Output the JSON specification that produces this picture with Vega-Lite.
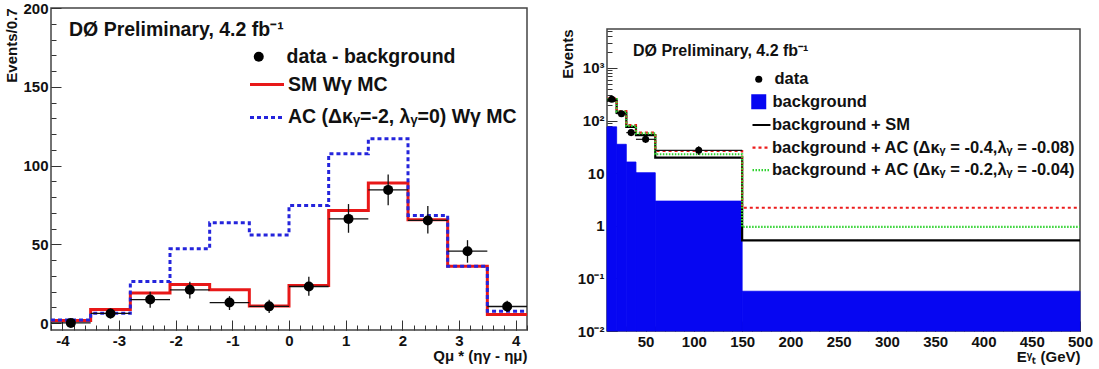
{
  "$schema": "https://vega.github.io/schema/vega-lite/v6.json",
  "background": "white",
  "padding": {"left": 4, "top": 0, "right": 2, "bottom": 0},
  "spacing": 25,
  "config": {
    "font": "Liberation Sans",
    "view": {"stroke": "#444444", "strokeWidth": 1.5},
    "axis": {"grid": false, "domain": false, "labelFont": "Liberation Sans", "labelFontWeight": "bold", "labelFontSize": 15, "labelColor": "#111111", "titleFont": "Liberation Sans", "titleFontWeight": "bold", "titleFontSize": 15, "titleColor": "#111111", "tickColor": "#333333", "tickWidth": 1, "labelFlush": false},
    "legend": {"labelFont": "Liberation Sans", "labelFontWeight": "bold", "labelColor": "#111111", "padding": 0, "labelLimit": 600}
  },
  "resolve": {
    "scale": {"stroke": "independent", "strokeDash": "independent", "shape": "independent", "fill": "independent"},
    "legend": {"stroke": "independent", "strokeDash": "independent", "shape": "independent", "fill": "independent"}
  },
  "datasets": {
    "lhist": [
      {"s": "SM Wγ MC", "i": 0, "lo": -4.2, "hi": -3.5, "v": 1.8},
      {"s": "SM Wγ MC", "i": 1, "lo": -3.5, "hi": -2.8, "v": 8.7},
      {"s": "SM Wγ MC", "i": 2, "lo": -2.8, "hi": -2.1, "v": 19.2},
      {"s": "SM Wγ MC", "i": 3, "lo": -2.1, "hi": -1.4, "v": 24.6},
      {"s": "SM Wγ MC", "i": 4, "lo": -1.4, "hi": -0.7, "v": 21.2},
      {"s": "SM Wγ MC", "i": 5, "lo": -0.7, "hi": 0, "v": 11},
      {"s": "SM Wγ MC", "i": 6, "lo": 0, "hi": 0.7, "v": 23.9},
      {"s": "SM Wγ MC", "i": 7, "lo": 0.7, "hi": 1.4, "v": 71.5},
      {"s": "SM Wγ MC", "i": 8, "lo": 1.4, "hi": 2.1, "v": 89},
      {"s": "SM Wγ MC", "i": 9, "lo": 2.1, "hi": 2.8, "v": 65.6},
      {"s": "SM Wγ MC", "i": 10, "lo": 2.8, "hi": 3.5, "v": 36.2},
      {"s": "SM Wγ MC", "i": 11, "lo": 3.5, "hi": 4.2, "v": 5.5},
      {"s": "AC (Δκᵧ=-2, λᵧ=0) Wγ MC", "i": 0, "lo": -4.2, "hi": -3.5, "v": 2},
      {"s": "AC (Δκᵧ=-2, λᵧ=0) Wγ MC", "i": 1, "lo": -3.5, "hi": -2.8, "v": 6.3},
      {"s": "AC (Δκᵧ=-2, λᵧ=0) Wγ MC", "i": 2, "lo": -2.8, "hi": -2.1, "v": 26.5},
      {"s": "AC (Δκᵧ=-2, λᵧ=0) Wγ MC", "i": 3, "lo": -2.1, "hi": -1.4, "v": 47.2},
      {"s": "AC (Δκᵧ=-2, λᵧ=0) Wγ MC", "i": 4, "lo": -1.4, "hi": -0.7, "v": 63.7},
      {"s": "AC (Δκᵧ=-2, λᵧ=0) Wγ MC", "i": 5, "lo": -0.7, "hi": 0, "v": 56},
      {"s": "AC (Δκᵧ=-2, λᵧ=0) Wγ MC", "i": 6, "lo": 0, "hi": 0.7, "v": 74.7},
      {"s": "AC (Δκᵧ=-2, λᵧ=0) Wγ MC", "i": 7, "lo": 0.7, "hi": 1.4, "v": 107.5},
      {"s": "AC (Δκᵧ=-2, λᵧ=0) Wγ MC", "i": 8, "lo": 1.4, "hi": 2.1, "v": 117},
      {"s": "AC (Δκᵧ=-2, λᵧ=0) Wγ MC", "i": 9, "lo": 2.1, "hi": 2.8, "v": 68.4},
      {"s": "AC (Δκᵧ=-2, λᵧ=0) Wγ MC", "i": 10, "lo": 2.8, "hi": 3.5, "v": 36.2},
      {"s": "AC (Δκᵧ=-2, λᵧ=0) Wγ MC", "i": 11, "lo": 3.5, "hi": 4.2, "v": 7.6}
    ],
    "ldata": [
      {"x": -3.85, "lo": -4.2, "hi": -3.5, "y": 0.2, "ylo": -1.3, "yhi": 1.7},
      {"x": -3.15, "lo": -3.5, "hi": -2.8, "y": 6.2, "ylo": 3.0, "yhi": 9.4},
      {"x": -2.45, "lo": -2.8, "hi": -2.1, "y": 15, "ylo": 9.8, "yhi": 20},
      {"x": -1.75, "lo": -2.1, "hi": -1.4, "y": 21.2, "ylo": 15.7, "yhi": 26.3},
      {"x": -1.05, "lo": -1.4, "hi": -0.7, "y": 13.1, "ylo": 8.4, "yhi": 17.2},
      {"x": -0.35, "lo": -0.7, "hi": 0, "y": 10.7, "ylo": 6.5, "yhi": 14.9},
      {"x": 0.35, "lo": 0, "hi": 0.7, "y": 23.3, "ylo": 17.4, "yhi": 29.5},
      {"x": 1.05, "lo": 0.7, "hi": 1.4, "y": 66.2, "ylo": 57.4, "yhi": 75.6},
      {"x": 1.75, "lo": 1.4, "hi": 2.1, "y": 84.6, "ylo": 74.9, "yhi": 94.3},
      {"x": 2.45, "lo": 2.1, "hi": 2.8, "y": 65.2, "ylo": 56.9, "yhi": 74.3},
      {"x": 3.15, "lo": 2.8, "hi": 3.5, "y": 45.7, "ylo": 38.4, "yhi": 52.7},
      {"x": 3.85, "lo": 3.5, "hi": 4.2, "y": 10.6, "ylo": 7.3, "yhi": 14.3}
    ],
    "rbg": [
      {"lo": 10, "hi": 20, "v": 76},
      {"lo": 20, "hi": 30, "v": 35.4},
      {"lo": 30, "hi": 40, "v": 16.3},
      {"lo": 40, "hi": 60, "v": 10.2},
      {"lo": 60, "hi": 150, "v": 2.95},
      {"lo": 150, "hi": 500, "v": 0.057}
    ],
    "rhist": [
      {"s": "background + SM", "i": 0, "lo": 10, "hi": 20, "v": 240},
      {"s": "background + SM", "i": 1, "lo": 20, "hi": 30, "v": 140},
      {"s": "background + SM", "i": 2, "lo": 30, "hi": 40, "v": 76},
      {"s": "background + SM", "i": 3, "lo": 40, "hi": 60, "v": 53},
      {"s": "background + SM", "i": 4, "lo": 60, "hi": 150, "v": 19.8},
      {"s": "background + SM", "i": 5, "lo": 150, "hi": 500, "v": 0.53},
      {"s": "background + AC (Δκᵧ = -0.4,λᵧ = -0.08)", "i": 0, "lo": 10, "hi": 20, "v": 262},
      {"s": "background + AC (Δκᵧ = -0.4,λᵧ = -0.08)", "i": 1, "lo": 20, "hi": 30, "v": 152},
      {"s": "background + AC (Δκᵧ = -0.4,λᵧ = -0.08)", "i": 2, "lo": 30, "hi": 40, "v": 82},
      {"s": "background + AC (Δκᵧ = -0.4,λᵧ = -0.08)", "i": 3, "lo": 40, "hi": 60, "v": 59},
      {"s": "background + AC (Δκᵧ = -0.4,λᵧ = -0.08)", "i": 4, "lo": 60, "hi": 150, "v": 26.4},
      {"s": "background + AC (Δκᵧ = -0.4,λᵧ = -0.08)", "i": 5, "lo": 150, "hi": 500, "v": 2.2},
      {"s": "background + AC (Δκᵧ = -0.2,λᵧ = -0.04)", "i": 0, "lo": 10, "hi": 20, "v": 256},
      {"s": "background + AC (Δκᵧ = -0.2,λᵧ = -0.04)", "i": 1, "lo": 20, "hi": 30, "v": 148},
      {"s": "background + AC (Δκᵧ = -0.2,λᵧ = -0.04)", "i": 2, "lo": 30, "hi": 40, "v": 79},
      {"s": "background + AC (Δκᵧ = -0.2,λᵧ = -0.04)", "i": 3, "lo": 40, "hi": 60, "v": 57},
      {"s": "background + AC (Δκᵧ = -0.2,λᵧ = -0.04)", "i": 4, "lo": 60, "hi": 150, "v": 22.9},
      {"s": "background + AC (Δκᵧ = -0.2,λᵧ = -0.04)", "i": 5, "lo": 150, "hi": 500, "v": 0.95}
    ],
    "rdata": [
      {"x": 15, "lo": 10, "hi": 20, "y": 254, "ylo": 238, "yhi": 270},
      {"x": 25, "lo": 20, "hi": 30, "y": 135, "ylo": 124, "yhi": 147},
      {"x": 35, "lo": 30, "hi": 40, "y": 59, "ylo": 51.5, "yhi": 67},
      {"x": 50, "lo": 40, "hi": 60, "y": 44, "ylo": 37.5, "yhi": 51},
      {"x": 105, "lo": 60, "hi": 150, "y": 27.2, "ylo": 22.2, "yhi": 32.5}
    ]
  },
  "hconcat": [
    {
      "width": 476,
      "height": 322,
      "title": {"text": "DØ Preliminary, 4.2 fb⁻¹", "anchor": "start", "frame": "group", "offset": -39, "dx": 18, "fontSize": 19.5, "fontWeight": "bold", "font": "Liberation Sans", "color": "#111111"},
      "resolve": {"axis": {"x": "independent", "y": "independent"}},
      "layer": [
        {
          "data": {"name": "lhist"},
          "transform": [{"fold": ["lo", "hi"], "as": ["edge", "xv"]}],
          "mark": {"type": "line", "strokeWidth": 3},
          "encoding": {
            "x": {"field": "xv", "type": "quantitative", "scale": {"domain": [-4.2, 4.2], "nice": false, "zero": false},
              "axis": {"orient": "bottom", "values": [-4, -3, -2, -1, 0, 1, 2, 3, 4], "tickSize": -10, "labelPadding": 13, "labelExpr": "'' + datum.value", "title": "Qμ * (ηγ - ημ)", "titleAnchor": "end", "titlePadding": 0}},
            "y": {"field": "v", "type": "quantitative", "scale": {"domain": [-4.3, 200], "nice": false, "zero": false},
              "axis": {"orient": "left", "values": [0, 50, 100, 150, 200], "tickSize": -10, "labelPadding": 13, "title": "Events/0.7", "titleAnchor": "end", "titlePadding": 3}},
            "stroke": {"field": "s", "type": "nominal", "scale": {"domain": ["SM Wγ MC", "AC (Δκᵧ=-2, λᵧ=0) Wγ MC"], "range": ["#e81818", "#2424dc"]},
              "legend": {"title": null, "orient": "none", "legendX": 197.5, "legendY": 58, "symbolType": "stroke", "symbolSize": 1156, "symbolStrokeWidth": 3, "labelFontSize": 19.5, "rowPadding": 4.9, "labelOffset": 2.5}},
            "strokeDash": {"field": "s", "type": "nominal", "scale": {"domain": ["SM Wγ MC", "AC (Δκᵧ=-2, λᵧ=0) Wγ MC"], "range": [[1, 0], [4, 3]]},
              "legend": {"title": null, "orient": "none", "legendX": 197.5, "legendY": 58, "symbolType": "stroke", "symbolSize": 1156, "symbolStrokeWidth": 3, "labelFontSize": 19.5, "rowPadding": 4.9, "labelOffset": 2.5}},
            "order": [{"field": "i", "type": "quantitative"}, {"field": "edge", "sort": "descending"}]
          }
        },
        {
          "data": {"name": "ldata"},
          "mark": {"type": "rule", "color": "#111111", "strokeWidth": 1.3},
          "encoding": {
            "x": {"field": "x", "type": "quantitative", "axis": null},
            "y": {"field": "ylo", "type": "quantitative", "axis": null},
            "y2": {"field": "yhi"}
          }
        },
        {
          "data": {"name": "ldata"},
          "mark": {"type": "rule", "color": "#111111", "strokeWidth": 1.3},
          "encoding": {
            "x": {"field": "lo", "type": "quantitative", "axis": null},
            "x2": {"field": "hi"},
            "y": {"field": "y", "type": "quantitative", "axis": null}
          }
        },
        {
          "data": {"name": "ldata"},
          "mark": {"type": "point", "filled": true, "size": 100, "opacity": 1, "color": "#000000"},
          "encoding": {
            "x": {"field": "x", "type": "quantitative",
              "axis": {"orient": "bottom", "values": [-4.2, -4, -3.8, -3.6, -3.4, -3.2, -3, -2.8, -2.6, -2.4, -2.2, -2, -1.8, -1.6, -1.4, -1.2, -1, -0.8, -0.6, -0.4, -0.2, 0, 0.2, 0.4, 0.6, 0.8, 1, 1.2, 1.4, 1.6, 1.8, 2, 2.2, 2.4, 2.6, 2.8, 3, 3.2, 3.4, 3.6, 3.8, 4, 4.2], "tickSize": -5, "labels": false, "title": null}},
            "y": {"field": "y", "type": "quantitative",
              "axis": {"orient": "left", "values": [0, 10, 20, 30, 40, 50, 60, 70, 80, 90, 100, 110, 120, 130, 140, 150, 160, 170, 180, 190, 200], "tickSize": -5, "labels": false, "title": null}},
            "shape": {"datum": "data - background", "scale": {"range": ["circle"]},
              "legend": {"title": null, "orient": "none", "legendX": 198, "legendY": 39, "symbolType": "circle", "symbolSize": 100, "symbolFillColor": "#000000", "symbolStrokeColor": "#000000", "symbolStrokeWidth": 0, "labelFontSize": 19.5, "labelOffset": 18}}
          }
        }
      ]
    },
    {
      "spacing": 0,
      "vconcat": [
        {
          "width": 473,
          "height": 20,
          "view": {"stroke": null},
          "data": {"values": []},
          "mark": "point",
          "encoding": {}
        },
        {
          "width": 473,
          "height": 302,
          "title": {"text": "DØ Preliminary, 4.2 fb⁻¹", "anchor": "start", "frame": "group", "offset": -30, "dx": 26, "fontSize": 16, "fontWeight": "bold", "font": "Liberation Sans", "color": "#111111"},
          "resolve": {"axis": {"x": "independent", "y": "independent"}},
          "layer": [
            {
              "data": {"name": "rbg"},
              "mark": {"type": "rect", "stroke": "#0606f2", "strokeWidth": 0.8},
              "encoding": {
                "x": {"field": "lo", "type": "quantitative", "scale": {"domain": [10, 500], "nice": false, "zero": false}, "axis": null},
                "x2": {"field": "hi"},
                "y": {"field": "v", "type": "quantitative", "scale": {"type": "log", "domain": [0.01, 5500], "nice": false}, "axis": null},
                "y2": {"datum": 0.01},
                "fill": {"datum": "background", "scale": {"range": ["#0606f2"]},
                  "legend": {"title": null, "orient": "none", "legendX": 143.5, "legendY": 85.5, "symbolType": "square", "symbolSize": 225, "symbolStrokeWidth": 0, "labelFontSize": 16.5, "labelOffset": 5.5}}
              }
            },
            {
              "data": {"name": "rhist"},
              "transform": [{"fold": ["lo", "hi"], "as": ["edge", "xv"]}],
              "mark": {"type": "line", "strokeWidth": 2.2},
              "encoding": {
                "x": {"field": "xv", "type": "quantitative",
                  "axis": {"orient": "bottom", "values": [50, 100, 150, 200, 250, 300, 350, 400, 450, 500], "tickSize": -10, "labelPadding": 13, "title": "Eᵞₜ (GeV)", "titleAnchor": "end", "titlePadding": 0}},
                "y": {"field": "v", "type": "quantitative",
                  "axis": {"orient": "left", "values": [0.01, 0.1, 1, 10, 100, 1000], "tickSize": -10, "labelPadding": 13, "labelExpr": "datum.value == 0.01 ? '10⁻²' : datum.value == 0.1 ? '10⁻¹' : datum.value == 1 ? '1' : datum.value == 10 ? '10' : datum.value == 100 ? '10²' : '10³'", "title": "Events", "titleAnchor": "end", "titlePadding": 2}},
                "stroke": {"field": "s", "type": "nominal", "scale": {"domain": ["background + SM", "background + AC (Δκᵧ = -0.4,λᵧ = -0.08)", "background + AC (Δκᵧ = -0.2,λᵧ = -0.04)"], "range": ["#000000", "#ec1c1c", "#2ed22e"]},
                  "legend": {"title": null, "orient": "none", "legendX": 144, "legendY": 106.5, "symbolType": "stroke", "symbolSize": 324, "symbolStrokeWidth": 2.2, "labelFontSize": 16.5, "rowPadding": 3.6, "labelOffset": 0}},
                "strokeDash": {"field": "s", "type": "nominal", "scale": {"domain": ["background + SM", "background + AC (Δκᵧ = -0.4,λᵧ = -0.08)", "background + AC (Δκᵧ = -0.2,λᵧ = -0.04)"], "range": [[1, 0], [3, 3], [1.5, 1.5]]},
                  "legend": {"title": null, "orient": "none", "legendX": 144, "legendY": 106.5, "symbolType": "stroke", "symbolSize": 324, "symbolStrokeWidth": 2.2, "labelFontSize": 16.5, "rowPadding": 3.6, "labelOffset": 0}},
                "order": [{"field": "i", "type": "quantitative"}, {"field": "edge", "sort": "descending"}]
              }
            },
            {
              "data": {"name": "rdata"},
              "mark": {"type": "rule", "color": "#111111", "strokeWidth": 1.2},
              "encoding": {
                "x": {"field": "x", "type": "quantitative", "axis": null},
                "y": {"field": "ylo", "type": "quantitative", "axis": null},
                "y2": {"field": "yhi"}
              }
            },
            {
              "data": {"name": "rdata"},
              "mark": {"type": "rule", "color": "#111111", "strokeWidth": 1.2},
              "encoding": {
                "x": {"field": "lo", "type": "quantitative", "axis": null},
                "x2": {"field": "hi"},
                "y": {"field": "y", "type": "quantitative", "axis": null}
              }
            },
            {
              "data": {"name": "rdata"},
              "mark": {"type": "point", "filled": true, "size": 50, "opacity": 1, "color": "#000000"},
              "encoding": {
                "x": {"field": "x", "type": "quantitative",
                  "axis": {"orient": "bottom", "values": [10, 20, 30, 40, 50, 60, 70, 80, 90, 100, 110, 120, 130, 140, 150, 160, 170, 180, 190, 200, 210, 220, 230, 240, 250, 260, 270, 280, 290, 300, 310, 320, 330, 340, 350, 360, 370, 380, 390, 400, 410, 420, 430, 440, 450, 460, 470, 480, 490, 500], "tickSize": -5, "labels": false, "title": null}},
                "y": {"field": "y", "type": "quantitative",
                  "axis": {"orient": "left", "values": [0.02, 0.03, 0.04, 0.05, 0.06, 0.07, 0.08, 0.09, 0.2, 0.3, 0.4, 0.5, 0.6, 0.7, 0.8, 0.9, 2, 3, 4, 5, 6, 7, 8, 9, 20, 30, 40, 50, 60, 70, 80, 90, 200, 300, 400, 500, 600, 700, 800, 900, 2000, 3000, 4000, 5000], "tickSize": -5, "labels": false, "title": null}},
                "shape": {"datum": "data", "scale": {"range": ["circle"]},
                  "legend": {"title": null, "orient": "none", "legendX": 143.5, "legendY": 63, "symbolType": "circle", "symbolSize": 50, "symbolFillColor": "#000000", "symbolStrokeColor": "#000000", "symbolStrokeWidth": 0, "labelFontSize": 16.5, "labelOffset": 7.5}}
              }
            }
          ]
        }
      ]
    }
  ]
}
